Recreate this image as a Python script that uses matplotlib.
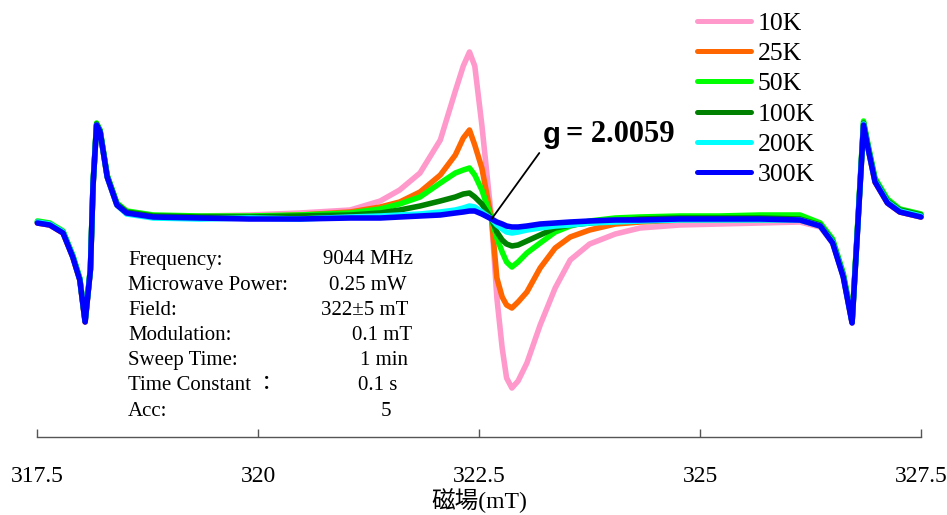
import matplotlib.pyplot as plt

# 磁場 (mT)
field = [317.50, 317.64, 317.79, 317.90, 317.98, 318.04, 318.10, 318.13, 318.17, 318.21,
         318.29, 318.40, 318.51, 318.81, 319.34, 319.90, 320.47, 321.04, 321.38, 321.60,
         321.83, 322.06, 322.23, 322.32, 322.39, 322.45, 322.53, 322.64, 322.70, 322.76,
         322.81, 322.87, 322.94, 323.04, 323.19, 323.36, 323.53, 323.75, 324.04, 324.32,
         324.77, 325.22, 325.68, 326.13, 326.36, 326.50, 326.62, 326.67, 326.72, 326.78,
         326.85, 326.90, 326.98, 327.12, 327.26, 327.50]

# ESR信号強度 (任意単位)
k10 = [-5, -7, -15, -39, -62, -104, -52, 33, 93, 86,
       41, 13, 5, 1, 2, 3, 5, 8, 17, 28,
       45, 78, 127, 152, 166, 152, 93, -1, -80, -130,
       -160, -170, -163, -145, -107, -70, -42, -26, -16, -10,
       -7, -6, -5, -4, -9, -25, -58, -82, -105, -15,
       93, 70, 36, 15, 6, 1]
k25 = [-5, -7, -15, -39, -62, -104, -52, 33, 93, 86,
       41, 13, 5, 1, 1, 1, 3, 6, 11, 16,
       26, 43, 63, 80, 88, 73, 50, -1, -60, -79,
       -87, -90, -84, -74, -50, -30, -19, -12, -6, -4,
       -2, -2, -2, -2, -8, -24, -58, -81, -104, -14,
       93, 70, 36, 15, 6, 1]
k50 = [-3, -5, -13, -37, -60, -102, -50, 35, 95, 88,
       43, 15, 7, 3, 2, 2, 3, 5, 9, 14,
       21, 35, 45, 48, 50, 43, 28, -1, -20, -34,
       -44, -49, -44, -35, -25, -14, -8, -3, 0, 1,
       2, 2, 3, 3, -5, -21, -55, -78, -102, -11,
       97, 74, 40, 19, 9, 4]
k100 = [-4, -6, -14, -38, -61, -103, -51, 34, 94, 87,
        42, 14, 6, 2, 1, 1, 2, 3, 5, 8,
        12, 17, 21, 24, 25, 21, 14, -1, -14, -22,
        -26, -28, -27, -23, -17, -10, -7, -5, -3, -1,
        0, 0, 0, -1, -7, -23, -57, -80, -104, -13,
        95, 72, 38, 17, 8, 3]
k200 = [-4, -6, -14, -38, -61, -103, -51, 34, 93, 86,
        41, 13, 4, 0, -1, 0, -1, 1, 2, 3,
        4, 6, 8, 10, 12, 11, 6, -1, -7, -11,
        -14, -15, -14, -12, -10, -8, -7, -5, -4, -3,
        -2, -2, -2, -2, -8, -24, -58, -81, -104, -14,
        94, 71, 37, 16, 7, 2]
k300 = [-5, -7, -15, -39, -62, -104, -52, 33, 93, 86,
        41, 13, 5, 1, 0, -1, -1, 0, 0, 1,
        2, 3, 5, 6, 7, 7, 4, -1, -4, -6,
        -8, -9, -9, -8, -6, -5, -4, -3, -2, -2,
        -1, -1, -1, -2, -8, -25, -59, -82, -105, -15,
        93, 70, 36, 15, 6, 1]

temps = ['10K', '25K', '50K', '100K', '200K', '300K']
colors = ['#FF99CC', '#FF6600', '#00FF00', '#008000', '#00FFFF', '#0000FF']
series = [k10, k25, k50, k100, k200, k300]

xticks = [317.5, 320, 322.5, 325, 327.5]
xtick_labels = ['317.5', '320', '322.5', '325', '327.5']

param_names = ['Frequency:', 'Microwave Power:', 'Field:', 'Modulation:',
               'Sweep Time:', 'Time Constant \uff1a', 'Acc:']
param_values = ['9044 MHz', '0.25 mW', '322\u00b15 mT', '0.1 mT', '1 min', '0.1 s', '5']

g_label = '2.0059'
g_point = (322.64, -1)

plt.rcParams['font.family'] = ['Liberation Serif', 'Noto Sans CJK JP']

W, H = 947, 515
fig = plt.figure(figsize=(W / 100, H / 100), dpi=100)
ax = fig.add_axes([37.4 / W, 78 / H, 883.6 / W, 437 / H])

for y, c, t in zip(series, colors, temps):
    ax.plot(field, y, color=c, lw=4, label=t,
            solid_joinstyle='round', solid_capstyle='round', clip_on=False)

ax.set_xlim(317.5, 327.5)
ax.set_ylim(-219, 218)
for s in ['left', 'right', 'top']:
    ax.spines[s].set_visible(False)
ax.spines['bottom'].set_color('#555555')
ax.spines['bottom'].set_linewidth(1.0)
ax.set_yticks([])
ax.set_xticks(xticks, xtick_labels)
ax.tick_params(axis='x', direction='in', length=6, width=1, color='#555555',
               pad=21, labelsize=17)
ax.set_xlabel('磁場(mT)', fontsize=17, labelpad=1)

leg = ax.legend(loc='upper left', bbox_to_anchor=(697 / W, 1 - 12 / H),
                bbox_transform=fig.transFigure, frameon=False, fontsize=18.5,
                handlelength=2.1, handletextpad=0.25, labelspacing=0.28,
                borderpad=0, borderaxespad=0)
for h in leg.get_lines():
    h.set_linewidth(3.6)

# 測定条件
value_right_px = [413, 407, 408, 412, 408, 397, 391]
for i, (n, v) in enumerate(zip(param_names, param_values)):
    yy = 1 - (260 + 25.2 * i) / H
    fig.text(128 / W, yy, n, fontsize=15, va='center', ha='left')
    fig.text(value_right_px[i] / W, yy, v, fontsize=15, va='center', ha='right')

# g値
fig.text(543 / W, 1 - 135 / H, 'g', fontsize=21, fontweight='bold',
         family='Liberation Sans', va='center')
fig.text(566 / W, 1 - 135 / H, '= ' + g_label, fontsize=22, fontweight='bold',
         va='center')
ax.annotate('', xy=g_point, xytext=(323.18, 65),
            arrowprops=dict(arrowstyle='-', color='black', lw=1.3,
                            shrinkA=0, shrinkB=0))

fig.savefig('out.png', dpi=100)
